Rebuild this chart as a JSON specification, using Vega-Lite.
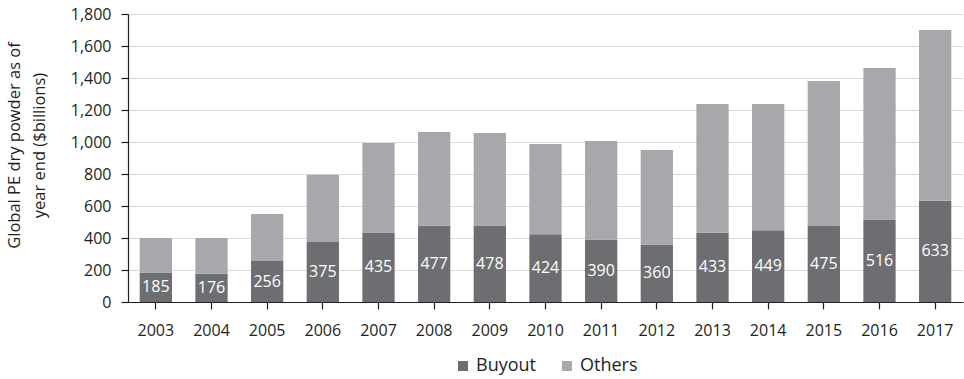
{
  "$schema": "https://vega.github.io/schema/vega-lite/v6.json",
  "width": 835,
  "height": 288,
  "autosize": {"type": "none"},
  "padding": {"left": 128, "top": 14, "right": 1, "bottom": 77},
  "background": "white",
  "config": {
    "font": "Open Sans",
    "view": {"stroke": null},
    "axis": {
      "domainColor": "#231f20",
      "domainWidth": 1.2,
      "tickColor": "#231f20",
      "tickWidth": 1.2,
      "tickSize": 7,
      "labelColor": "#231f20",
      "labelFont": "Open Sans",
      "labelFontSize": 16,
      "labelOverlap": false,
      "titleColor": "#231f20",
      "titleFont": "Open Sans",
      "titleFontWeight": "normal"
    }
  },
  "data": {
    "values": [
      {"year": "2003", "type": "Buyout", "value": 185},
      {"year": "2003", "type": "Others", "value": 215},
      {"year": "2004", "type": "Buyout", "value": 176},
      {"year": "2004", "type": "Others", "value": 224},
      {"year": "2005", "type": "Buyout", "value": 256},
      {"year": "2005", "type": "Others", "value": 294},
      {"year": "2006", "type": "Buyout", "value": 375},
      {"year": "2006", "type": "Others", "value": 421},
      {"year": "2007", "type": "Buyout", "value": 435},
      {"year": "2007", "type": "Others", "value": 559},
      {"year": "2008", "type": "Buyout", "value": 477},
      {"year": "2008", "type": "Others", "value": 585},
      {"year": "2009", "type": "Buyout", "value": 478},
      {"year": "2009", "type": "Others", "value": 578},
      {"year": "2010", "type": "Buyout", "value": 424},
      {"year": "2010", "type": "Others", "value": 563},
      {"year": "2011", "type": "Buyout", "value": 390},
      {"year": "2011", "type": "Others", "value": 616},
      {"year": "2012", "type": "Buyout", "value": 360},
      {"year": "2012", "type": "Others", "value": 590},
      {"year": "2013", "type": "Buyout", "value": 433},
      {"year": "2013", "type": "Others", "value": 804},
      {"year": "2014", "type": "Buyout", "value": 449},
      {"year": "2014", "type": "Others", "value": 788},
      {"year": "2015", "type": "Buyout", "value": 475},
      {"year": "2015", "type": "Others", "value": 906},
      {"year": "2016", "type": "Buyout", "value": 516},
      {"year": "2016", "type": "Others", "value": 946},
      {"year": "2017", "type": "Buyout", "value": 633},
      {"year": "2017", "type": "Others", "value": 1067}
    ]
  },
  "encoding": {
    "x": {
      "field": "year",
      "type": "ordinal",
      "scale": {"paddingInner": 0.42, "paddingOuter": 0.21},
      "axis": {"title": null, "labelAngle": 0, "labelPadding": 13, "grid": false}
    }
  },
  "layer": [
    {
      "mark": {"type": "bar"},
      "encoding": {
        "y": {
          "field": "value",
          "type": "quantitative",
          "stack": "zero",
          "scale": {"domain": [0, 1800]},
          "axis": {
            "values": [0, 200, 400, 600, 800, 1000, 1200, 1400, 1600, 1800],
            "format": ",.0f",
            "labelPadding": 10,
            "gridColor": "#dcdcdc",
            "gridWidth": 1.2,
            "title": ["Global PE dry powder as of", "year end ($billions)"],
            "titleFontSize": 16.5,
            "titleLineHeight": 25,
            "titleBaseline": "middle",
            "titleX": -114,
            "titleY": 131
          }
        },
        "color": {
          "field": "type",
          "type": "nominal",
          "scale": {"domain": ["Buyout", "Others"], "range": ["#6d6e71", "#a7a8ab"]},
          "legend": {
            "orient": "none",
            "legendX": 326,
            "legendY": 343,
            "direction": "horizontal",
            "title": null,
            "symbolType": "square",
            "symbolSize": 100,
            "symbolStrokeWidth": 0,
            "labelFontSize": 18,
            "labelColor": "#231f20",
            "labelOffset": 4,
            "columnPadding": 22
          }
        },
        "order": {"field": "type", "sort": "ascending"}
      }
    },
    {
      "transform": [{"filter": "datum.type === 'Buyout'"}],
      "mark": {"type": "text", "color": "white", "fontSize": 16, "baseline": "middle", "align": "center"},
      "encoding": {
        "y": {
          "field": "value",
          "type": "quantitative",
          "stack": "zero",
          "bandPosition": 0.5,
          "axis": {
            "values": [0, 200, 400, 600, 800, 1000, 1200, 1400, 1600, 1800],
            "format": ",.0f",
            "labelPadding": 10,
            "gridColor": "#dcdcdc",
            "gridWidth": 1.2,
            "title": ["Global PE dry powder as of", "year end ($billions)"],
            "titleFontSize": 16.5,
            "titleLineHeight": 25,
            "titleBaseline": "middle",
            "titleX": -114,
            "titleY": 131
          }
        },
        "text": {"field": "value", "type": "quantitative"}
      }
    }
  ]
}
